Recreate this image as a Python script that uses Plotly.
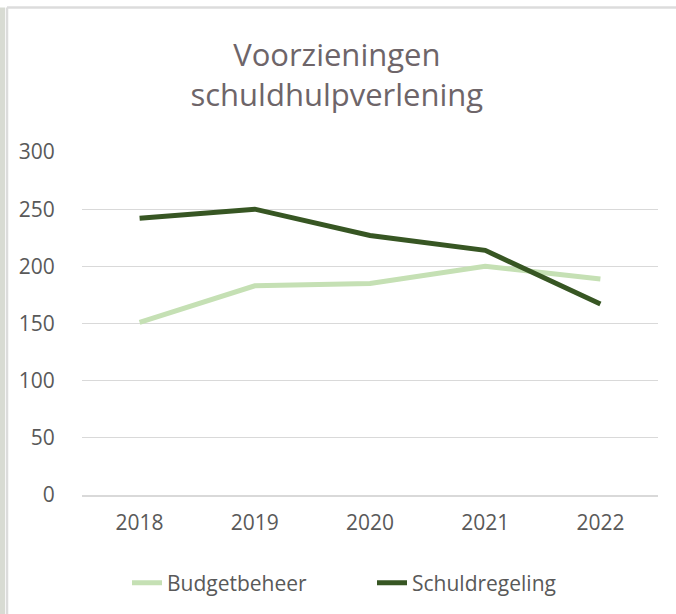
import plotly.graph_objects as go

years = ["2018", "2019", "2020", "2021", "2022"]
budgetbeheer = [151, 183, 185, 200, 189]
schuldregeling = [242, 250, 227, 214, 167]
y_ticks = [0, 50, 100, 150, 200, 250, 300]

L, R, T, B = 82, 18, 152, 118
W, H = 676, 614
pw, ph = W - L - R, H - T - B

def px(x):
    return (x - L) / pw

def py(y):
    return (H - B - y) / ph

fig = go.Figure()
fig.add_trace(go.Scatter(x=years, y=budgetbeheer, name="Budgetbeheer", mode="lines",
                         line=dict(color="#c5e0b4", width=5)))
fig.add_trace(go.Scatter(x=years, y=schuldregeling, name="Schuldregeling", mode="lines",
                         line=dict(color="#375623", width=5)))

font_family = "Open Sans, Noto Sans, sans-serif"
fig.update_layout(
    width=W, height=H,
    margin=dict(l=L, r=R, t=T, b=B),
    paper_bgcolor="white", plot_bgcolor="white",
    title=dict(text="Voorzieningen<br>schuldhulpverlening", x=px(369), xanchor="center",
               y=1 - 66 / H, yanchor="middle",
               font=dict(family=font_family, size=31, color="#6e6569")),
    font=dict(family=font_family, size=21, color="#595959"),
    xaxis=dict(type="category", range=[-0.5, 4.5], showgrid=False, showline=True,
               linecolor="#d9d9d9", linewidth=1.5,
               ticks="outside", tickcolor="rgba(0,0,0,0)", ticklen=8,
               tickfont=dict(size=21, color="#595959"), fixedrange=True),
    yaxis=dict(range=[0, 300], tickvals=y_ticks, showgrid=True, gridcolor="#d9d9d9",
               gridwidth=1.3, zeroline=False, showline=False, ticks="outside",
               tickcolor="rgba(0,0,0,0)", ticklen=22,
               tickfont=dict(size=21, color="#595959")),
    legend=dict(orientation="h", x=px(372), xanchor="center", y=py(583), yanchor="middle",
                font=dict(size=21, color="#595959"), entrywidth=200),
    showlegend=True,
)
# frame: grey strip on the left and thin top/left border lines
fig.add_shape(type="rect", xref="paper", yref="paper", x0=px(-5), x1=px(5), y0=py(700), y1=py(7),
              line=dict(width=0), fillcolor="#d8dbd3", layer="below")
fig.add_shape(type="line", xref="paper", yref="paper", x0=px(7), x1=px(700), y0=py(7), y1=py(7),
              line=dict(color="#dcdcdc", width=2.5), layer="below")
fig.add_shape(type="line", xref="paper", yref="paper", x0=px(7), x1=px(7), y0=py(7), y1=py(700),
              line=dict(color="#dcdcdc", width=2.5), layer="below")

fig.write_html("out.html", config={"displayModeBar": False},
               post_script="document.body.style.margin='0';document.body.style.overflow='hidden';")
